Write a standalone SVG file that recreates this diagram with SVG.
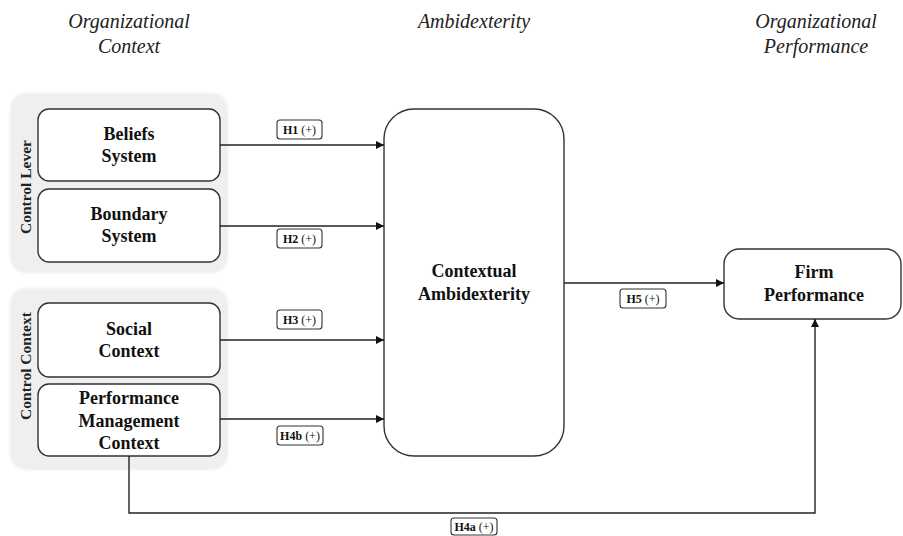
<svg xmlns="http://www.w3.org/2000/svg" width="903" height="536" viewBox="0 0 903 536">
<defs>
<marker id="arr" viewBox="0 0 10 10" refX="10" refY="5" markerWidth="10" markerHeight="8" markerUnits="userSpaceOnUse" orient="auto">
<path d="M0,0 L10,5 L0,10 z" fill="#111"/>
</marker>
<filter id="soft" x="-10%" y="-10%" width="120%" height="120%"><feGaussianBlur stdDeviation="1.2"/></filter>
</defs>
<style>
.hdr{font-family:"Liberation Serif",serif;font-style:italic;font-size:20px;fill:#222;text-anchor:middle}
.lbl{font-family:"Liberation Serif",serif;font-weight:bold;font-size:18px;fill:#111;text-anchor:middle}
.vlbl{font-family:"Liberation Serif",serif;font-weight:bold;font-size:15.5px;fill:#222;text-anchor:middle}
.node{fill:#fff;stroke:#333;stroke-width:1.4}
.grp{fill:#efefef}
.tag{fill:#fff;stroke:#333;stroke-width:1.1}
.tagt{font-family:"Liberation Serif",serif;font-size:12px;fill:#111;text-anchor:middle}
.edge{fill:none;stroke:#222;stroke-width:1.4}
</style>
<rect width="903" height="536" fill="#fff"/>
<g id="headers">
<text class="hdr" x="129" y="28">Organizational</text>
<text class="hdr" x="129" y="53">Context</text>
<text class="hdr" x="474" y="28">Ambidexterity</text>
<text class="hdr" x="816" y="28">Organizational</text>
<text class="hdr" x="816" y="53">Performance</text>
</g>
<g id="control-lever">
<rect class="grp" x="10" y="93" width="218" height="180" rx="16" filter="url(#soft)"/>
<text class="vlbl" transform="translate(31,187) rotate(-90)">Control Lever</text>
</g>
<g id="control-context">
<rect class="grp" x="10" y="288" width="218" height="182" rx="16" filter="url(#soft)"/>
<text class="vlbl" transform="translate(31,366) rotate(-90)">Control Context</text>
</g>
<g id="beliefs">
<rect class="node" x="38" y="109" width="182" height="72" rx="11"/>
<text class="lbl" x="129" y="140">Beliefs</text>
<text class="lbl" x="129" y="162">System</text>
</g>
<g id="boundary">
<rect class="node" x="38" y="189" width="182" height="73" rx="11"/>
<text class="lbl" x="129" y="220">Boundary</text>
<text class="lbl" x="129" y="242">System</text>
</g>
<g id="social">
<rect class="node" x="38" y="303" width="182" height="74" rx="11"/>
<text class="lbl" x="129" y="335">Social</text>
<text class="lbl" x="129" y="357">Context</text>
</g>
<g id="performance-management">
<rect class="node" x="38" y="384" width="182" height="72" rx="11"/>
<text class="lbl" x="129" y="404">Performance</text>
<text class="lbl" x="129" y="427">Management</text>
<text class="lbl" x="129" y="449">Context</text>
</g>
<g id="contextual-ambidexterity">
<rect class="node" x="384" y="109" width="180" height="347" rx="30"/>
<text class="lbl" x="474" y="277">Contextual</text>
<text class="lbl" x="474" y="300">Ambidexterity</text>
</g>
<g id="firm-performance">
<rect class="node" x="724" y="249" width="177" height="70" rx="15"/>
<text class="lbl" x="814" y="278">Firm</text>
<text class="lbl" x="814" y="301">Performance</text>
</g>
<g id="connectors">
<line class="edge" x1="220" y1="145" x2="384" y2="145" marker-end="url(#arr)"/>
<line class="edge" x1="220" y1="226" x2="384" y2="226" marker-end="url(#arr)"/>
<line class="edge" x1="220" y1="340" x2="384" y2="340" marker-end="url(#arr)"/>
<line class="edge" x1="220" y1="419" x2="384" y2="419" marker-end="url(#arr)"/>
<line class="edge" x1="564" y1="283" x2="724" y2="283" marker-end="url(#arr)"/>
<path class="edge" d="M129,456 V513 H815 V319" marker-end="url(#arr)"/>
<g id="tags">
<rect class="tag" x="277" y="120" width="45" height="19" rx="3"/>
<text class="tagt" x="299.5" y="134"><tspan font-weight="bold">H1</tspan> (+)</text>
<rect class="tag" x="277" y="229" width="45" height="19" rx="3"/>
<text class="tagt" x="299.5" y="243"><tspan font-weight="bold">H2</tspan> (+)</text>
<rect class="tag" x="277" y="310" width="45" height="19" rx="3"/>
<text class="tagt" x="299.5" y="324"><tspan font-weight="bold">H3</tspan> (+)</text>
<rect class="tag" x="277" y="426" width="46" height="19" rx="3"/>
<text class="tagt" x="300" y="440"><tspan font-weight="bold">H4b</tspan> (+)</text>
<rect class="tag" x="620" y="289" width="46" height="19" rx="3"/>
<text class="tagt" x="643" y="303"><tspan font-weight="bold">H5</tspan> (+)</text>
<rect class="tag" x="451" y="518" width="46" height="17" rx="3"/>
<text class="tagt" x="474" y="531"><tspan font-weight="bold">H4a</tspan> (+)</text>
</g>
</g>
</svg>
